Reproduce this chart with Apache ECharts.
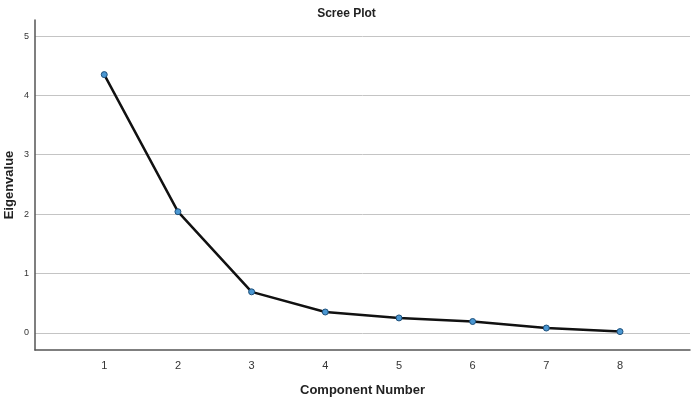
<!DOCTYPE html>
<html><head><meta charset="utf-8">
<script src="https://cdn.jsdelivr.net/npm/echarts@6/dist/echarts.min.js"></script>
<style>html,body{margin:0;padding:0;background:#fff}#c{width:693px;height:402px}</style>
</head><body><div id="c"></div>
<script>
var components = [1, 2, 3, 4, 5, 6, 7, 8];
var eigenvalues = [4.35, 2.04, 0.69, 0.35, 0.25, 0.19, 0.08, 0.02];
var xTicks = [1, 2, 3, 4, 5, 6, 7, 8];
var yTicks = [0, 1, 2, 3, 4, 5];

var chart = echarts.init(document.getElementById('c'));
var font = 'Liberation Sans, Arial, sans-serif';
chart.setOption({
  animation: false,
  title: { text: 'Scree Plot', left: 'center', top: 3,
    textStyle: { fontFamily: font, fontSize: 12, fontWeight: 'bold', color: '#222' } },
  grid: { left: 35, right: 3, top: 20, bottom: 52, containLabel: false, outerBoundsMode: 'none' },
  xAxis: {
    type: 'value', min: 0.06, max: 8.95,
    name: 'Component Number', nameLocation: 'middle', nameGap: 34,
    nameTextStyle: { fontFamily: font, fontSize: 13, fontWeight: 'bold', color: '#222' },
    axisLine: { show: true, onZero: false, lineStyle: { color: '#555', width: 1.5 } },
    axisTick: { show: false, customValues: xTicks },
    axisLabel: { customValues: xTicks, fontFamily: font, fontSize: 11, color: '#333', margin: 10 },
    splitLine: { show: false }
  },
  yAxis: {
    type: 'value', min: -0.29, max: 5.27,
    name: 'Eigenvalue', nameLocation: 'middle', nameGap: 19, nameMoveOverlap: false,
    nameTextStyle: { fontFamily: font, fontSize: 13, fontWeight: 'bold', color: '#222' },
    axisLine: { show: true, onZero: false, lineStyle: { color: '#555', width: 1.5 } },
    axisTick: { show: false, customValues: yTicks },
    axisLabel: { customValues: yTicks, fontFamily: font, fontSize: 9, color: '#333', margin: 6 },
    splitLine: { show: true, lineStyle: { color: '#c4c4c4', width: 1 } }
  },
  series: [{
    type: 'line',
    data: components.map(function (c, i) { return [c, eigenvalues[i]]; }),
    symbol: 'circle', symbolSize: 6,
    lineStyle: { color: '#111', width: 2.5 },
    itemStyle: { color: '#4a97d2', borderColor: '#1d4f7a', borderWidth: 1 },
    z: 3
  }]
});
</script></body></html>
